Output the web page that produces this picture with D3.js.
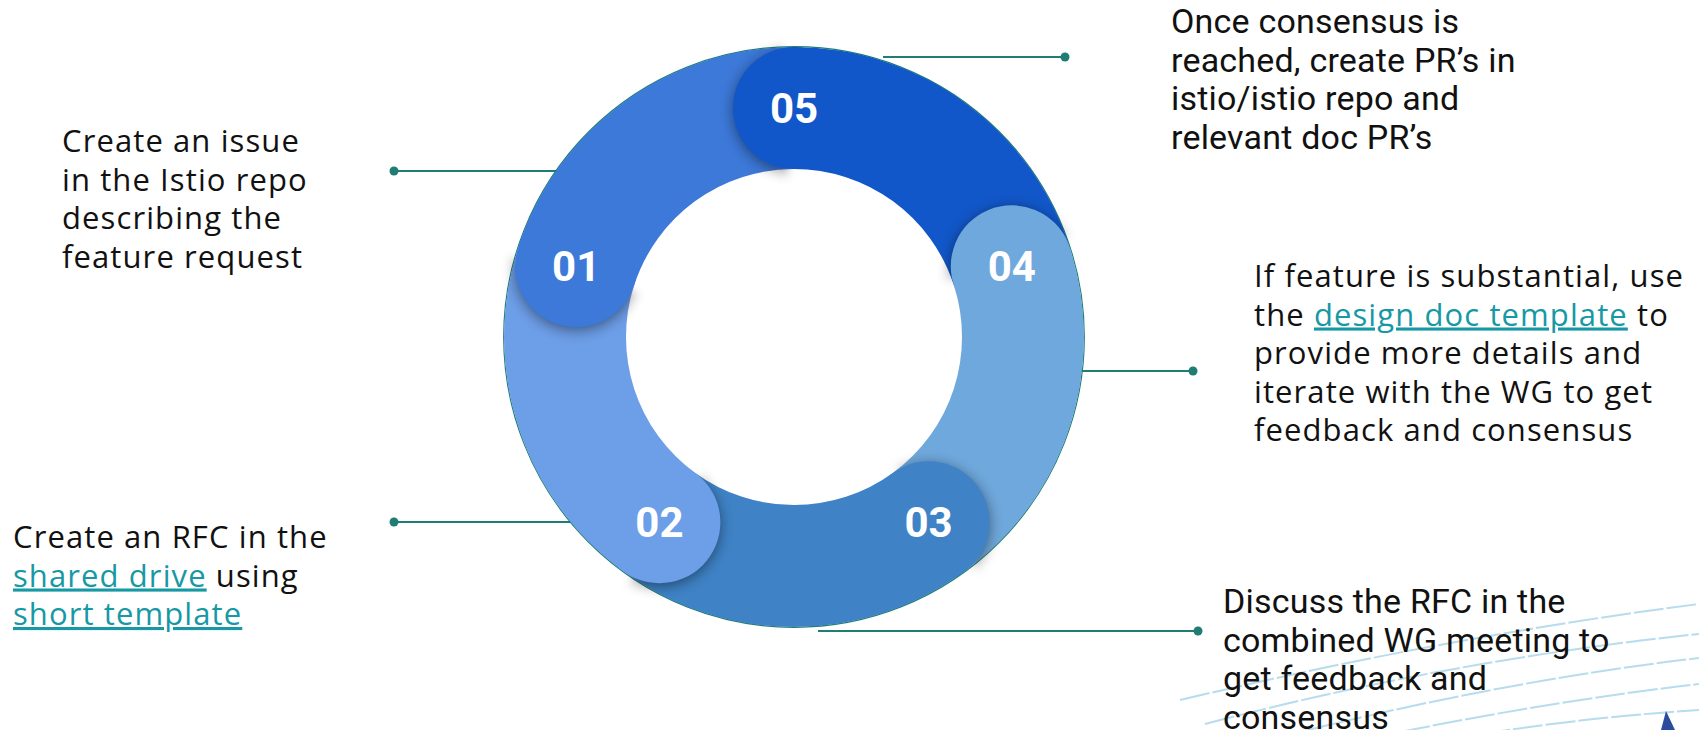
<!DOCTYPE html>
<html>
<head>
<meta charset="utf-8">
<script src="https://cdn.jsdelivr.net/npm/d3@7"></script>
<style>
  html, body { margin: 0; padding: 0; background: #fff; }
  svg { display: block; }
</style>
</head>
<body>
<svg id="mainSVG" width="1699" height="730"></svg>
<script>
var $svg = d3.select("#mainSVG");

// Steps, in the order they are numbered (numbering runs counter-clockwise)
var steps = ["01", "02", "03", "04", "05"];
var stepColors = ["#3d79d9", "#6d9ee8", "#3f83c6", "#6fa8dc", "#1257c9"];

// Notes per step, [..] marks a link
var stepNotes = [
    ["Create an issue", "in the Istio repo", "describing the", "feature request"],
    ["Create an RFC in the", "[shared drive] using", "[short template]"],
    ["Discuss the RFC in the", "combined WG meeting to", "get feedback and", "consensus"],
    ["If feature is substantial, use", "the [design doc template] to", "provide more details and", "iterate with the WG to get", "feedback and consensus"],
    ["Once consensus is", "reached, create PR\u2019s in", "istio/istio repo and", "relevant doc PR\u2019s"]
];

// Layout
var cx = 794, cy = 337;
var rOuter = 290, rInner = 168;
var rMid = (rOuter + rInner) / 2;
var rHead = (rOuter - rInner) / 2;
var lineH = 38.5;
var teal = "#1f7d73";
var linkColor = "#1798a5";

// note blocks: text origin, font, leader line [x1,y,x2] (x2 = dot end)
var noteLayout = [
    {x: 62,   y: 152, font: "wide",   leader: [600, 171, 394]},
    {x: 13,   y: 548, font: "wide",   leader: [600, 522, 394]},
    {x: 1223, y: 613, font: "narrow", leader: [818, 631, 1198]},
    {x: 1254, y: 287, font: "wide",   leader: [1060, 371, 1193]},
    {x: 1171, y: 33,  font: "narrow", leader: [883, 57, 1065]}
];
var fonts = {
    wide:   {family: "'Open Sans', sans-serif", size: 31, spacing: 1.1},
    narrow: {family: "Roboto, sans-serif", size: 34, spacing: 0.2}
};

// angle scale: step i sits at -(i+1)/5 of a turn from 12 o'clock
var angle = d3.scaleLinear().domain([0, steps.length]).range([0, -2 * Math.PI]);
var step = 2 * Math.PI / steps.length;
var headAngle = i => (angle(i + 1) + 2 * Math.PI) % (2 * Math.PI);

var defs = $svg.append("defs");

var shadow = defs.append("filter").attr("id", "headShadow")
    .attr("x", "-50%").attr("y", "-50%").attr("width", "200%").attr("height", "200%");
shadow.append("feGaussianBlur").attr("in", "SourceAlpha").attr("stdDeviation", 7);
shadow.append("feOffset").attr("dx", 0).attr("dy", 3).attr("result", "off");
shadow.append("feComponentTransfer").append("feFuncA").attr("type", "linear").attr("slope", 0.45);

defs.append("filter").attr("id", "softEdge")
    .attr("x", "-20%").attr("y", "-20%").attr("width", "140%").attr("height", "140%")
    .append("feGaussianBlur").attr("stdDeviation", 5);

// Background decoration (bottom right)
var decoCurves = [
    [1180, 700, 1450, 636, 1699, 604],
    [1205, 724, 1450, 660, 1699, 634],
    [1300, 732, 1510, 680, 1699, 658],
    [1400, 732, 1560, 700, 1699, 684],
    [1480, 734, 1600, 716, 1699, 710]
];
$svg.append("g").attr("id", "deco")
    .selectAll("path").data(decoCurves).enter().append("path")
    .attr("d", d => `M ${d[0]} ${d[1]} Q ${d[2]} ${d[3]} ${d[4]} ${d[5]}`)
    .attr("fill", "none")
    .attr("stroke", "#a9d6ea")
    .attr("stroke-opacity", 0.85)
    .attr("stroke-width", 2)
    .attr("stroke-dasharray", "30 3");
$svg.append("path").attr("d", "M 1666 711 L 1675 730 L 1661 730 Z").attr("fill", "#2b4c9c");

// Leader lines
var $leaders = $svg.append("g").attr("id", "leaders")
    .selectAll("g").data(noteLayout).enter().append("g");
$leaders.append("line")
    .attr("x1", d => d.leader[0]).attr("x2", d => d.leader[2])
    .attr("y1", d => d.leader[1]).attr("y2", d => d.leader[1])
    .attr("stroke", teal).attr("stroke-width", 2);
$leaders.append("circle")
    .attr("cx", d => d.leader[2]).attr("cy", d => d.leader[1])
    .attr("r", 4.5).attr("fill", teal);

// Ring
var $ring = $svg.append("g").attr("id", "ring").attr("transform", `translate(${cx} ${cy})`);

$ring.append("circle").attr("r", rOuter + 0.3)
    .attr("fill", "none").attr("stroke", teal).attr("stroke-width", 1.2);

var bodyArc = d3.arc().innerRadius(rInner).outerRadius(rOuter);
$ring.append("g").attr("id", "bodies")
    .selectAll("path").data(steps).enter().append("path")
    .attr("d", (d, i) => bodyArc({startAngle: headAngle(i), endAngle: headAngle(i) + step}))
    .attr("fill", (d, i) => stepColors[i]);

// shadow of each head only falls on the segment behind it (soft-edged wedge mask)
var wedge = d3.arc().innerRadius(0).outerRadius(rOuter + 80);
defs.selectAll("mask").data(steps).enter().append("mask")
    .attr("id", (d, i) => "wedge" + i)
    .attr("maskUnits", "userSpaceOnUse")
    .attr("x", -450).attr("y", -450).attr("width", 900).attr("height", 900)
    .append("path")
    .attr("d", (d, i) => wedge({startAngle: headAngle(i) - step, endAngle: headAngle(i) - 0.04}))
    .attr("fill", "#fff")
    .attr("filter", "url(#softEdge)");

var headX = i => rMid * Math.sin(headAngle(i));
var headY = i => -rMid * Math.cos(headAngle(i));

$ring.append("g").attr("id", "shadows")
    .selectAll("g").data(steps).enter().append("g")
    .attr("mask", (d, i) => `url(#wedge${i})`)
    .append("circle")
    .attr("cx", (d, i) => headX(i)).attr("cy", (d, i) => headY(i))
    .attr("r", rHead)
    .attr("fill", "#000")
    .attr("filter", "url(#headShadow)");

var $heads = $ring.append("g").attr("id", "heads")
    .selectAll("g").data(steps).enter().append("g");
$heads.append("circle")
    .attr("cx", (d, i) => headX(i)).attr("cy", (d, i) => headY(i))
    .attr("r", rHead)
    .attr("fill", (d, i) => stepColors[i]);
$heads.append("text")
    .attr("x", (d, i) => headX(i)).attr("y", (d, i) => headY(i))
    .attr("dy", "0.36em")
    .attr("text-anchor", "middle")
    .attr("fill", "#fff")
    .attr("font-family", "Roboto, sans-serif")
    .attr("font-weight", 700)
    .attr("font-size", 42)
    .text(d => d);

// Notes
var $notes = $svg.append("g").attr("id", "notes")
    .selectAll("text").data(stepNotes).enter().append("text")
    .attr("font-family", (d, i) => fonts[noteLayout[i].font].family)
    .attr("font-size", (d, i) => fonts[noteLayout[i].font].size)
    .attr("letter-spacing", (d, i) => fonts[noteLayout[i].font].spacing)
    .attr("fill", "#111");

$notes.each(function(lines, i) {
    var lay = noteLayout[i];
    var $t = d3.select(this);
    lines.forEach((line, j) => {
        // split into plain / link parts
        var parts = line.split(/(\[[^\]]*\])/).filter(p => p.length);
        parts.forEach((p, k) => {
            var isLink = p[0] == "[";
            var $s = $t.append("tspan").text(isLink ? p.slice(1, -1) : p);
            if (k == 0) $s.attr("x", lay.x).attr("y", lay.y + j * lineH);
            if (isLink) $s.attr("fill", linkColor).attr("text-decoration", "underline");
        });
    });
});
</script>
</body>
</html>
